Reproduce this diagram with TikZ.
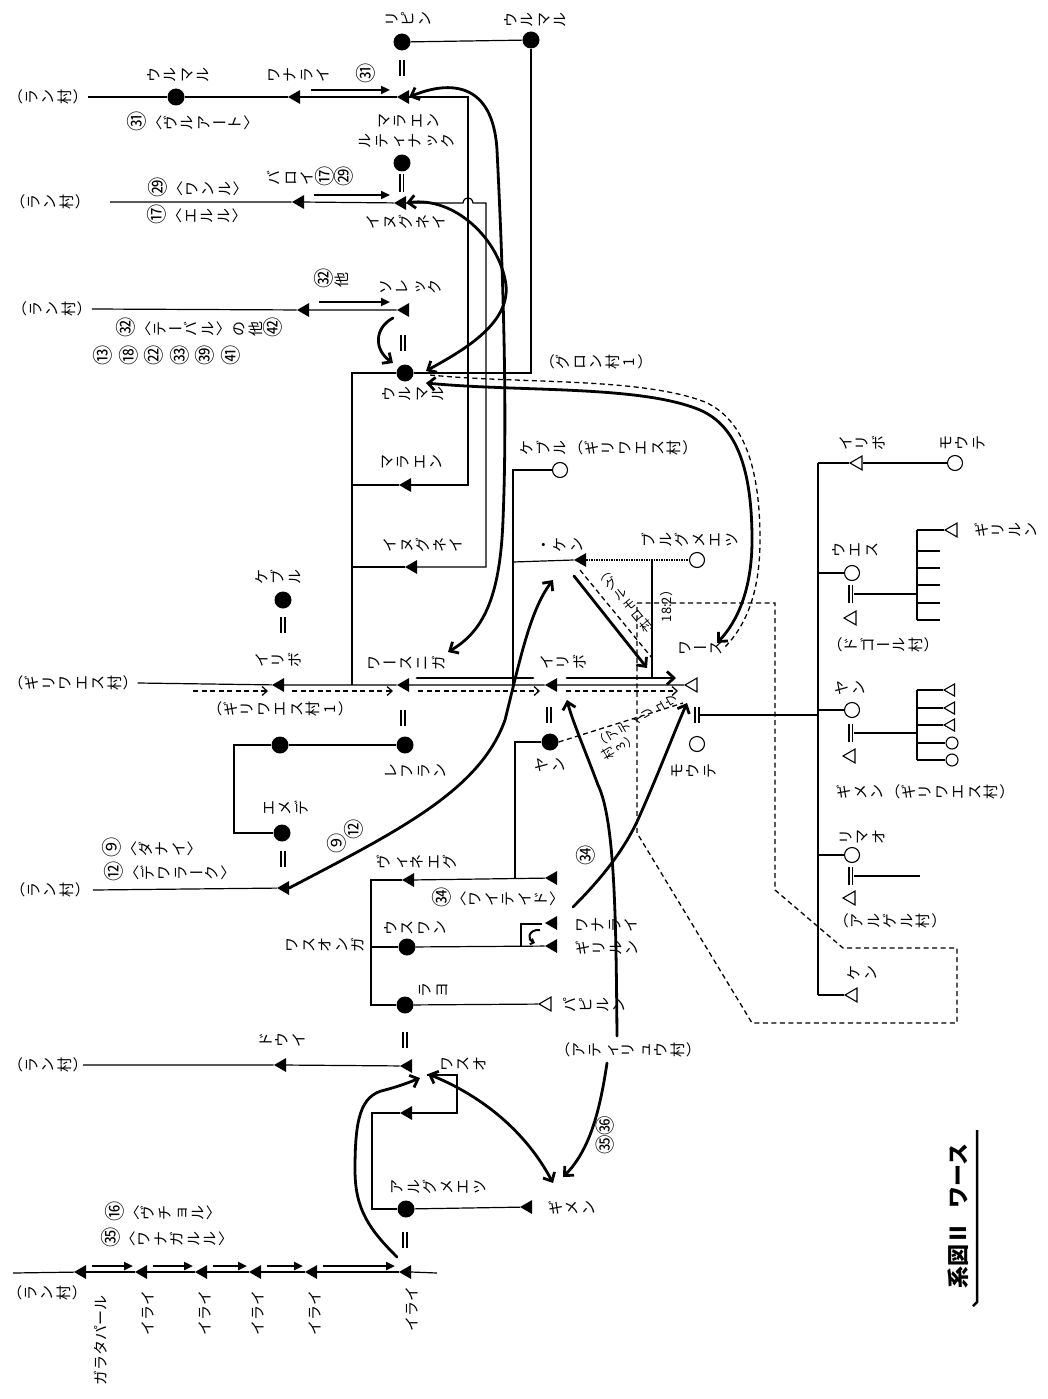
\documentclass[tikz,border=0pt]{standalone}
\usepackage{fontspec}
\setmainfont{Noto Sans CJK JP}
\usepackage{graphicx}
\usetikzlibrary{arrows.meta,shapes.geometric,calc}
\makeatletter
\newlength\vtw
\setlength\vtw{15pt}
\def\vt@end{\vt@end@@}
\newcommand\vt[1]{\vt@loop#1\vt@end}
\def\vt@loop#1{\ifx#1\vt@end\else\vt@c{#1}\expandafter\vt@loop\fi}
\def\vt@c#1{\ifcat\relax\noexpand#1#1\else\vt@r{#1}\fi}
\def\vt@r#1{\rotatebox[origin=c]{90}{\makebox[\vtw]{\rule[-0.16em]{0pt}{1.1em}\vt@circ{#1}}}}
\def\vt@circ#1{\ifnum`#1>"245F \ifnum`#1<"2500 \scalebox{1.35}{#1}\else\vt@circb{#1}\fi\else #1\fi}
\def\vt@circb#1{\ifnum`#1>"3250 \ifnum`#1<"32C0 \scalebox{1.35}{#1}\else #1\fi\else #1\fi}
\makeatother
\newcommand\lp{（}
\newcommand\rp{）}
\newcommand\la{〈}
\newcommand\ra{〉}
\newcommand\cho{ー}
\newcommand\gap{\hspace{6pt}}
\begin{document}
\begin{tikzpicture}[x=1pt,y=-1pt,
  lab/.style={inner sep=0pt,font=\fontsize{15}{21}\selectfont,align=center},
  labs/.style={inner sep=0pt,font=\fontsize{12.5}{15}\selectfont,align=left},
  labr/.style={lab,rotate=90},
  tri/.style={regular polygon,regular polygon sides=3,shape border rotate=90,inner sep=0pt,minimum size=16pt},
  male/.style={tri,fill=black},
  maleo/.style={tri,draw,line width=1.1pt,fill=white,minimum size=16pt},
  fem/.style={circle,fill=black,inner sep=0pt,minimum size=17pt},
  femo/.style={circle,draw,line width=1.1pt,fill=white,inner sep=0pt,minimum size=15pt},
  ln/.style={line width=1.2pt},
  thk/.style={line width=2.8pt,line cap=round},
  thka/.style={thk,-{Straight Barb[length=7pt,width=13pt]}},
  thkb/.style={thk,{Straight Barb[length=7pt,width=13pt]}-{Straight Barb[length=7pt,width=13pt]}},
  dbl/.style={line width=2.4pt,-{Triangle[length=9pt,width=8pt]}},
  dsh/.style={line width=1.3pt,dash pattern=on 5pt off 3.5pt},
  dsha/.style={dsh,-{Straight Barb[length=5pt,width=9pt]}},
  eq/.pic={\draw[line width=1.2pt] (-2,-8)--(-2,8) (2,-8)--(2,8);},
  eqk/.pic={\draw[line width=1.6pt] (-2,-9)--(-2,9) (1.5,-9)--(1.5,9);}
]
\fill[white] (0,0) rectangle (1047,1399);
\useasboundingbox (0,0) rectangle (1047,1399);

% ===== main column =====
\node[fem] (ripin) at (402,42) {};
\node[fem] (urumT) at (531,40) {};
\node[male] (maraenA) at (405,97) {};
\node[fem] (rutina) at (402,163) {};
\node[male] (inuguA) at (402,203) {};
\node[male] (sorek) at (405,310) {};
\node[fem] (urum) at (405,373) {};
\node[male] (maraenB) at (407,485) {};
\node[male] (inuguB) at (413,567) {};
\node[male] (wasn) at (405,685) {};
\node[fem] (leflan) at (405,745) {};
\node[male] (vine) at (410,880) {};
\node[fem] (usuwan) at (407,947) {};
\node[fem] (rayo) at (405,1005) {};
\node[male] (waso) at (408,1066) {};
\node[male] (trB) at (408,1113) {};
\node[fem] (alg) at (406,1209) {};
\node[male] (iraiM) at (407,1272) {};

\pic at (402,68) {eq};
\pic at (402,183) {eqk};
\pic at (403,343) {eq};
\pic at (403,718) {eq};
\pic at (405,1040) {eq};
\pic at (405,1240) {eq};

\node[lab] (tRipin) at (408,19) {\vt{リピン}};
\node[lab] (tUrumT) at (535,20) {\vt{ウルマル}};
\node[lab] (tMaraA) at (408,121) {\vt{マラエン}};
\node[lab] (tRuti) at (406,141) {\vt{ルティナック}};
\node[lab] (tInuA) at (406,222) {\vt{イヌグネイ}};
\node[lab] (tSorek) at (410,287) {\vt{ソレック}};
\node[lab] (tUrum) at (413,394) {\vt{ウルマル}};
\node[lab] (tGuron) at (596,362) {\vt{\lp グロン村1\rp}};
\node[lab] (tMaraB) at (411,462) {\vt{マラエン}};
\node[lab] (tInuB) at (423,545) {\vt{イヌグネイ}};
\node[lab] (tWasn) at (406,663) {\vt{ワ\cho スニガ}};
\node[lab] (tLef) at (415,771) {\vt{レフラン}};
\node[lab] (tVine) at (417,862) {\vt{ヴィネエグ}};
\node[lab] (tUsu) at (415,928) {\vt{ウスワン}};
\node[lab] (tWasonga) at (325,945) {\vt{ワスオンガ}};
\node[lab] (tRayo) at (433,990) {\vt{ラヨ}};
\node[lab] (tWaso) at (463,1064) {\vt{ワスオ}};
\node[lab] (tAlg) at (438,1187) {\vt{アルグメエツ}};
\node[labr] (tIraiM) at (412,1309) {イライ};

% main column connectors
\draw[ln] (ripin) -- (urumT);
\draw[ln] (urumT) |- (urum);
\draw[ln] (maraenA.east) -- (468,97) -- (468,485) -- (maraenB.east);
\draw[ln] (inuguA.east) -- (463,203) .. controls (464,196) and (472,196) .. (473,203) -- (486,203) -- (486,567) -- (inuguB.east);
\draw[ln] (urum.west) -- (352,373) -- (352,685);
\draw[ln] (352,485) -- (maraenB.west);
\draw[ln] (352,567) -- (inuguB.west);
\draw[ln] (vine.west) -- (371,880) -- (371,1005) -- (rayo.west);
\draw[ln] (371,947) -- (usuwan.west);
\draw[ln] (427,1075) -- (457,1075) -- (457,1113) -- (trB.east);
\draw[ln] (trB.west) -- (372,1113) -- (372,1209) -- (alg.west);
\draw[ln] (iraiM.east) -- (437,1273);

% ===== left rows =====
\node[lab] (ran1) at (48,97) {\vt{\lp ラン村\rp}};
\node[fem] (urumL) at (176,97) {};
\node[male] (wanL) at (296,97) {};
\node[lab] (tUrumL) at (178,75) {\vt{ウルマル}};
\node[lab] (tWanL) at (298,75) {\vt{ワナライ}};
\node[lab] (t31) at (366,73) {\vt{㉛}};
\node[lab] (tVul) at (193,122) {\vt{㉛\la ヴルア\cho ト\ra}};
\draw[ln] (ran1.east) -- (urumL) -- (wanL) -- (maraenA);
\draw[dbl] (311,90) -- (390,90);

\node[lab] (ran2) at (50,202) {\vt{\lp ラン村\rp}};
\node[male] (baroi) at (300,202) {};
\node[lab] (tBaroi) at (310,177) {\vt{バロイ⑰㉙}};
\node[lab] (tWanru) at (198,188) {\vt{㉙\la ワンル\ra}};
\node[lab] (tEruru) at (197,215) {\vt{⑰\la エルル\ra}};
\draw[ln] (110,202) -- (baroi) -- (inuguA);
\draw[dbl] (314,195) -- (390,195);

\node[lab] (ran3) at (52,309) {\vt{\lp ラン村\rp}};
\node[male] (sorL) at (305,310) {};
\node[lab] (t32) at (332,279) {\vt{㉜他}};
\node[lab] (tTeba) at (200,328) {\vt{㉜\la テ\cho バル\ra の他㊷}};
\node[lab] (tNums) at (167,355) {\vt{⑬\gap ⑱\gap ㉒\gap ㉝\gap ㊴\gap ㊶}};
\draw[ln] (ran3.east) -- (sorL) -- (sorek);
\draw[dbl] (319,302) -- (390,302);
\draw[thka] (393,318) .. controls (374,328) and (374,350) .. (393,363);

% row 685
\node[lab] (giri) at (73,683) {\vt{\lp ギリワエス村\rp}};
\node[fem] (kebuL) at (283,600) {};
\node[male] (iriboL) at (280,685) {};
\pic at (283,625) {eq};
\node[lab] (tKebuL) at (278,577) {\vt{ケブル}};
\node[lab] (tIriL) at (278,660) {\vt{イリボ}};
\node[lab] (tGiri1) at (280,709) {\vt{\lp ギリワエス村1\rp}};
\node[male] (irib2) at (553,685) {};
\node[maleo] (wase) at (693,685) {};
\node[lab] (tIrib2) at (563,662) {\vt{イリボ}};
\node[lab] (tWase) at (700,648) {\vt{ワ\cho ス}};
\draw[ln] (giri.east) -- (iriboL) -- (wasn) -- (irib2) -- (wase);
\draw[thk] (417,678) -- (533,678);
\draw[thka] (567,678) -- (676,678);
\draw[dsha] (193,691) -- (268,691);
\draw[dsha] (292,691) -- (393,691);
\draw[dsha] (418,691) -- (540,691);
\draw[dsha] (566,691) -- (678,691);

% lefts around 745-890
\node[fem] (fem745) at (280,745) {};
\node[fem] (emede) at (282,833) {};
\node[male] (danaiT) at (285,888) {};
\pic at (283,859) {eq};
\node[lab] (tEmede) at (285,808) {\vt{エメデ}};
\node[lab] (ran4) at (50,890) {\vt{\lp ラン村\rp}};
\node[lab] (tDanai) at (152,848) {\vt{⑨\la ダナイ\ra}};
\node[lab] (tDewa) at (170,872) {\vt{⑫\la デワラ\cho ク\ra}};
\draw[ln] (fem745) -- (leflan);
\draw[ln] (fem745.west) -- (234,745) -- (234,833) -- (emede.west);
\draw[ln] (93,890) -- (danaiT);

\node[lab] (ran5) at (48,1065) {\vt{\lp ラン村\rp}};
\node[male] (doui) at (282,1065) {};
\node[lab] (tDoui) at (282,1040) {\vt{ドウイ}};
\draw[ln] (83,1065) -- (doui) -- (waso);

% bottom chain
\node[male] (ch1) at (82,1272) {};
\node[male] (ch2) at (143,1272) {};
\node[male] (ch3) at (203,1272) {};
\node[male] (ch4) at (257,1272) {};
\node[male] (ch5) at (313,1272) {};
\draw[ln] (13,1273) -- (ch1);
\draw[line width=1.6pt] (ch1) -- (ch2) -- (ch3) -- (ch4) -- (ch5) -- (iraiM);
\draw[dbl] (92,1266) -- (133,1266);
\draw[dbl] (153,1266) -- (193,1266);
\draw[dbl] (213,1266) -- (247,1266);
\draw[dbl] (267,1266) -- (303,1266);
\draw[dbl] (323,1266) -- (395,1266);
\node[lab] (ran6) at (47,1293) {\vt{\lp ラン村\rp}};
\node[lab] (tVcho) at (163,1212) {\vt{⑯\la ヴチョル\ra}};
\node[lab] (tWanag) at (167,1238) {\vt{㉟\la ワナガルル\ra}};
\node[labr] (tGara) at (101,1340) {ガラタパール};
\node[labr] (tI1) at (148,1313) {イライ};
\node[labr] (tI2) at (205,1313) {イライ};
\node[labr] (tI3) at (258,1313) {イライ};
\node[labr] (tI4) at (315,1313) {イライ};

% ===== centre =====
\node[femo] (kebu2) at (560,470) {};
\node[lab] (tKebu2) at (608,448) {\vt{ケブル\lp ギリワエス村\rp}};
\node[male] (ken) at (582,560) {};
\node[lab] (tKen) at (560,545) {\vt{・ケン}};
\node[femo] (brug) at (697,560) {};
\node[lab] (tBrug) at (690,540) {\vt{ブルグメエツ}};
\draw[ln] (kebu2.west) -- (513,470) -- (513,685);
\draw[ln] (513,562) -- (ken.west);
\draw[line width=1.5pt,densely dotted] (ken.east) -- (brug.west);
\draw[ln] (652,560) -- (652,678);

\node[fem] (yan) at (550,742) {};
\pic at (549,715) {eq};
\node[lab] (tYan) at (550,765) {\vt{ヤン}};
\node[femo] (mote) at (697,744) {};
\pic at (697,715) {eq};
\node[lab] (tMote) at (693,771) {\vt{モウテ}};
\draw[ln] (700,715) -- (818,715);

\node[male] (waitd) at (553,878) {};
\node[male] (wanarai2) at (553,923) {};
\node[male] (giril) at (553,946) {};
\node[maleo] (papi) at (547,1004) {};
\node[lab] (tWaitd) at (498,898) {\vt{㉞\la ワイテイド\ra}};
\node[lab] (tWana2) at (606,925) {\vt{ワナライ}};
\node[lab] (tGiril) at (607,948) {\vt{ギリルン}};
\node[lab] (tPapi) at (594,1005) {\vt{パピルン}};
\draw[ln] (yan.west) -- (515,742) -- (515,879);
\draw[ln] (vine) -- (waitd);
\draw[ln] (usuwan) -- (giril);
\draw[ln] (rayo) -- (papi);
\draw[line width=2pt] (521,947) -- (521,924) -- (542,924);
\draw[line width=2pt,-{Straight Barb[length=3pt,width=6pt]}] (540,930) .. controls (528,929) and (527,940) .. (535,943);

\node[male] (gimen) at (528,1207) {};
\node[lab] (tGimen) at (572,1208) {\vt{ギメン}};
\draw[ln] (alg) -- (gimen);
\node[lab] (tAti) at (628,1050) {\vt{\lp アティリュウ村\rp}};
\node[lab] (t34) at (586,855) {\vt{㉞}};
\node[labr] (t3536) at (605,1135) {\scalebox{1.3}{㉟㊱}};
\node[lab] (t9) at (337,843) {\vt{⑨}};
\node[lab] (t12) at (354,829) {\vt{⑫}};
\node[labs,rotate=-51] (tGuru) at (625,600) {\vt{\lp グルモロ村}};
\node[labr,font=\fontsize{13}{15}\selectfont] (t182) at (667,603) {18:2\rp};
\node[labs,rotate=30] (tAti3) at (640,727) {\vt{\lp アティリュウ}\\\vt{村3\rp}};

% thick curves
\draw[thkb] (maraenA.east) .. controls (450,80) and (493,82) .. (497,150) .. controls (502,250) and (508,400) .. (503,520) .. controls (500,600) and (482,632) .. (448,652);
\draw[thkb] (inuguA.east) .. controls (455,196) and (500,240) .. (506,285) .. controls (510,325) and (460,352) .. (426,371);
\draw[thkb] (426,383) .. controls (520,392) and (640,385) .. (700,410) .. controls (737,426) and (752,470) .. (752,540) .. controls (752,590) and (737,622) .. (717,643);
\draw[dsh] (430,375) .. controls (520,384) and (640,377) .. (705,402) .. controls (745,420) and (760,470) .. (760,540) .. controls (760,596) and (744,628) .. (724,648);
\draw[thka] (danaiT.east) .. controls (400,830) and (480,790) .. (505,720) .. controls (520,660) and (530,610) .. (553,580);
\draw[thka] (574,576) -- (647,668);
\draw[dsh] (580,570) -- (652,658);
\draw[thka] (617,1036) .. controls (616,920) and (615,820) .. (598,785) .. controls (585,750) and (572,720) .. (567,700);
\draw[thka] (607,1063) .. controls (600,1110) and (590,1150) .. (563,1177);
\draw[thka] (573,907) .. controls (600,880) and (625,850) .. (640,815) .. controls (660,770) and (675,730) .. (687,703);
\draw[dsh] (yan.east) -- (683,703);
\draw[thka] (397,1257) .. controls (370,1230) and (355,1210) .. (355,1170) .. controls (355,1120) and (360,1095) .. (385,1090) .. controls (400,1086) and (410,1082) .. (420,1078);
\draw[thkb] (428,1074) .. controls (480,1095) and (525,1130) .. (553,1183);

% dashed enclosure
\draw[dsh] (637,603) -- (775,603) -- (775,890) -- (843,948) -- (957,948) -- (957,1023) -- (752,1023) -- (637,833) -- cycle;

% ===== right block =====
\draw[ln] (818,463) -- (818,995);
\node[maleo] (iriboR) at (858,463) {};
\node[femo] (moteR) at (955,463) {};
\node[lab] (tIriR) at (862,443) {\vt{イリボ}};
\node[lab] (tMoteR) at (962,443) {\vt{モウテ}};
\draw[ln] (818,463) -- (iriboR) -- (moteR);

\node[femo] (ues) at (852,573) {};
\pic at (851,594) {eqk};
\node[maleo] (uesH) at (852,618) {};
\node[lab] (tUes) at (855,550) {\vt{ウエス}};
\node[lab] (tDogo) at (883,645) {\vt{\lp ドゴ\cho ル村\rp}};
\draw[ln] (818,573) -- (ues);
\draw[ln] (854,594) -- (917,594);
\draw[ln] (917,530) -- (917,620);
\foreach \yy in {551,568,585,603,620} \draw[ln] (917,\yy) -- (940,\yy);
\node[maleo] (girilR) at (953,530) {};
\node[lab] (tGirilR) at (1006,530) {\vt{ギリルン}};
\draw[ln] (917,530) -- (girilR);

\node[femo] (yanR) at (852,710) {};
\pic at (851,733) {eqk};
\node[maleo] (yanH) at (851,756) {};
\node[lab] (tYanR) at (850,688) {\vt{ヤン}};
\node[lab] (tGimenR) at (925,792) {\vt{ギメン\lp ギリワエス村\rp}};
\draw[ln] (818,710) -- (yanR);
\draw[ln] (854,733) -- (917,733);
\draw[ln] (917,690) -- (917,760);
\node[maleo,minimum size=14pt] (e1) at (951,690) {};
\node[maleo,minimum size=14pt] (e2) at (951,708) {};
\node[maleo,minimum size=14pt] (e3) at (951,725) {};
\node[femo,minimum size=12pt] (e4) at (952,743) {};
\node[femo,minimum size=12pt] (e5) at (952,760) {};
\foreach \e in {e1,e2,e3,e4,e5} \draw[ln] (917,0 |- \e) -- (\e);

\node[femo] (rimao) at (852,855) {};
\pic at (851,876) {eqk};
\node[maleo] (rimaoH) at (851,898) {};
\node[lab] (tRimao) at (862,837) {\vt{リマオ}};
\node[lab] (tAlgel) at (890,921) {\vt{\lp アルゲル村\rp}};
\draw[ln] (818,855) -- (rimao);
\draw[ln] (854,876) -- (920,876);

\node[maleo] (kenR) at (853,995) {};
\node[lab] (tKenR) at (862,973) {\vt{ケン}};
\draw[ln] (818,995) -- (kenR);

% title
\node[rotate=90,inner sep=0pt,font=\fontsize{22}{24}\selectfont\bfseries] (title) at (958,1216) {系図Ⅱ\hspace{14pt}ワース};
\draw[line width=2.5pt] (977,1130) -- (977,1302) -- (973,1306);
\end{tikzpicture}
\end{document}
